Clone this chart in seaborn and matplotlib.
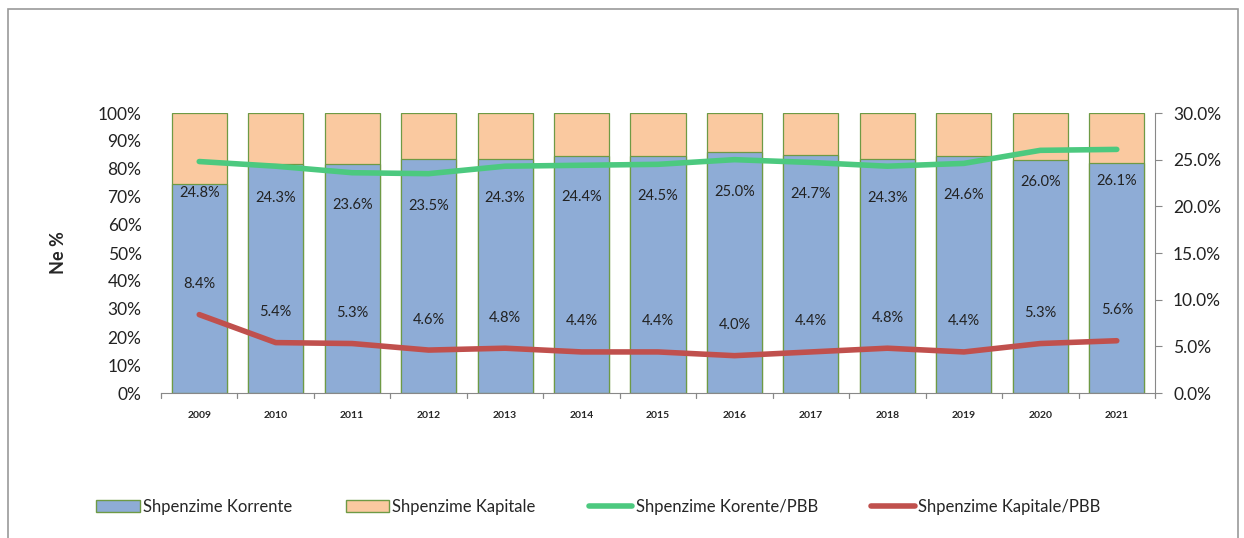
import numpy as np
import pandas as pd
import matplotlib
matplotlib.use("Agg")
import matplotlib.pyplot as plt
import seaborn as sns
from matplotlib.patches import Patch, Rectangle
from matplotlib.lines import Line2D
from matplotlib.ticker import FuncFormatter

# data
years = ['2009', '2010', '2011', '2012', '2013', '2014', '2015',
         '2016', '2017', '2018', '2019', '2020', '2021']
share_korrente = [74.7, 81.8, 81.7, 83.6, 83.5, 84.7, 84.8, 86.2, 84.9, 83.5, 84.8, 83.1, 82.3]
share_kapitale = [100 - v for v in share_korrente]
korrente_pbb = [24.8, 24.3, 23.6, 23.5, 24.3, 24.4, 24.5, 25.0, 24.7, 24.3, 24.6, 26.0, 26.1]
kapitale_pbb = [8.4, 5.4, 5.3, 4.6, 4.8, 4.4, 4.4, 4.0, 4.4, 4.8, 4.4, 5.3, 5.6]

df = pd.DataFrame({'year': years, 'korrente': share_korrente, 'kapitale': share_kapitale})
df['total'] = df['korrente'] + df['kapitale']

sns.set_style('white')
plt.rcParams['font.family'] = ['Lato', 'DejaVu Sans']

blue = '#8EACD6'
orange = '#FAC9A0'
edge = '#6E9A45'
green = '#4CC97F'
red = '#C0504D'

fig = plt.figure(figsize=(12.44, 5.38), dpi=100)
fig.patches.append(Rectangle((8 / 1244, -0.01), 1230 / 1244, 1 - 9 / 538 + 0.01,
                             transform=fig.transFigure, fill=False,
                             edgecolor='#9A9A9A', linewidth=1.2))

ax = fig.add_axes([161 / 1244, 1 - 393 / 538, 994 / 1244, 280 / 538])

sns.barplot(data=df, x='year', y='total', color=orange, edgecolor=edge,
            linewidth=0.9, width=0.72, saturation=1, ax=ax)
sns.barplot(data=df, x='year', y='korrente', color=blue, edgecolor=edge,
            linewidth=0.9, width=0.72, saturation=1, ax=ax)

ax.set_ylim(0, 100)
ax.set_xlim(-0.5, len(years) - 0.5)
ax.set_yticks(range(0, 101, 10))
ax.yaxis.set_major_formatter(FuncFormatter(lambda v, p: f'{v:.0f}%'))
ax.tick_params(axis='y', length=0, pad=14, labelsize=12.5, labelcolor='#222222')
ax.tick_params(axis='x', length=0, pad=13, labelsize=7.5)
for t in ax.get_xticklabels():
    t.set_fontweight('bold')
ax.set_xlabel('')
ax.set_ylabel('Ne %', fontsize=13, fontweight='bold', labelpad=22)
for s in ['top', 'left', 'right']:
    ax.spines[s].set_visible(False)
ax.spines['bottom'].set_color('#888888')

# boundary ticks on the category axis
for b in np.arange(-0.5, len(years), 1.0):
    ax.plot([b, b], [0, -1.8], color='#888888', lw=0.9, clip_on=False)

ax2 = ax.twinx()
x = np.arange(len(years))
sns.lineplot(x=x, y=korrente_pbb, color=green, lw=4, ax=ax2)
sns.lineplot(x=x, y=kapitale_pbb, color=red, lw=4, ax=ax2)
ax2.set_ylim(0, 30)
ax2.set_yticks(np.arange(0, 30.1, 5))
ax2.yaxis.set_major_formatter(FuncFormatter(lambda v, p: f'{v:.1f}%'))
ax2.tick_params(axis='y', length=5, pad=8, labelsize=12.5, color='#888888', labelcolor='#222222')
for s in ['top', 'left', 'bottom']:
    ax2.spines[s].set_visible(False)
ax2.spines['right'].set_color('#888888')

for i in range(len(years)):
    ax2.annotate(f'{korrente_pbb[i]:.1f}%', (x[i], korrente_pbb[i]), xytext=(0, -23),
                 textcoords='offset points', ha='center', va='center', fontsize=10.5, color='#222222')
    ax2.annotate(f'{kapitale_pbb[i]:.1f}%', (x[i], kapitale_pbb[i]), xytext=(0, 22),
                 textcoords='offset points', ha='center', va='center', fontsize=10.5, color='#222222')

handles = [Patch(facecolor=blue, edgecolor=edge, label='Shpenzime Korrente'),
           Patch(facecolor=orange, edgecolor=edge, label='Shpenzime Kapitale'),
           Line2D([], [], color=green, lw=4, label='Shpenzime Korente/PBB'),
           Line2D([], [], color=red, lw=4, label='Shpenzime Kapitale/PBB')]
fig.legend(handles=handles, loc='center', bbox_to_anchor=(0.481, 1 - 507 / 538), ncol=4,
           frameon=False, fontsize=12, columnspacing=3.2, handlelength=2.6, handletextpad=0.2)

fig.savefig('out.png', dpi=100)
